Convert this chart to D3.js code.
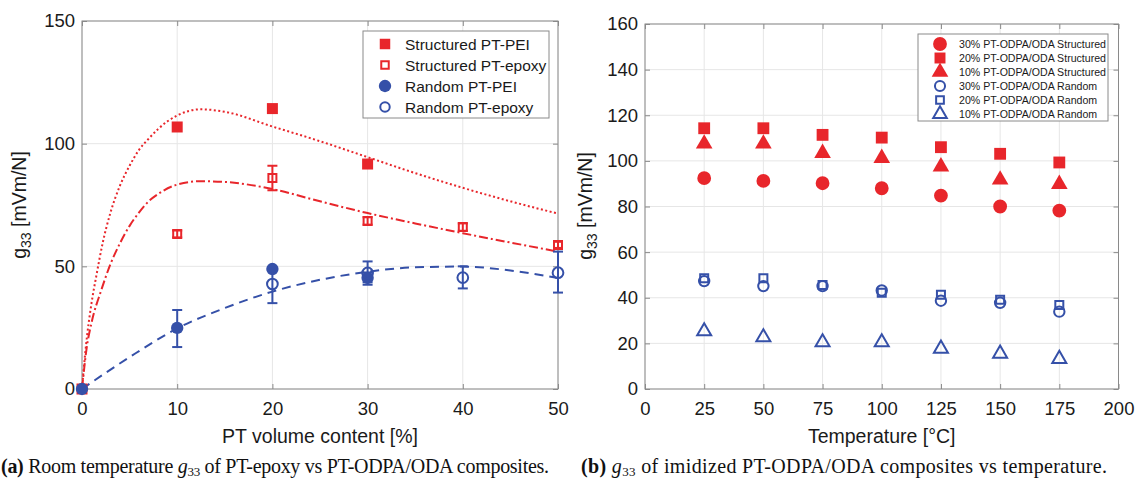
<!DOCTYPE html>
<html>
<head>
<meta charset="utf-8">
<script src="https://cdn.jsdelivr.net/npm/d3@7"></script>
<style>
  body { margin: 0; background: #fff; }
  svg { display: block; }
</style>
</head>
<body>
<svg id="chart" width="1136" height="481"></svg>
<script>
// colours used all over the figure
const RED = "#e8262b";
const BLUE = "#3550a8";
const GRID = "#e6e6e6";
const BOX = "#8a8a8a";
const SANS = "'Liberation Sans', Arial, sans-serif";
const SERIF = "'Liberation Serif', 'Times New Roman', serif";

// ---------- panel (a) data: g33 vs PT volume content ----------
const volTicks = [0, 10, 20, 30, 40, 50];
const gTicksA = [0, 50, 100, 150];

const strPeiX = [0, 10, 20, 30];
const strPeiY = [0, 106.8, 114.3, 91.7];

const strEpoX = [10, 20, 30, 40, 50];
const strEpoY = [63.2, 86, 68.5, 66, 58.7];
const strEpoLo = [61.8, 81, 67, 64.5, 57.5];
const strEpoHi = [64.6, 91, 70, 67.5, 60];

const rndPeiX = [0, 10, 20, 30];
const rndPeiY = [0, 24.9, 48.9, 45.3];
const rndPeiLo = [0, 17.1, 48.9, 43.5];
const rndPeiHi = [0, 32.2, 48.9, 47.5];

const rndEpoX = [20, 30, 40, 50];
const rndEpoY = [42.8, 47.3, 45.4, 47.4];
const rndEpoLo = [35, 42.5, 41, 39.3];
const rndEpoHi = [49, 52, 50, 56];

// fitted curves
const fitPeiX = [0, 0.4, 1, 1.5, 2.2, 3, 4, 5, 6, 7, 8, 10, 12.5, 15, 20, 25, 30, 35, 40, 45, 50];
const fitPeiY = [0, 17, 35, 46, 60, 72, 83, 91, 97.5, 102, 106, 111.5, 114, 113, 107, 101, 94.5, 88, 82, 76.5, 71.5];
const fitEpoX = [0, 0.5, 1, 2, 3, 4, 5, 6, 7, 8, 10, 12.5, 15, 20, 25, 30, 35, 40, 45, 50];
const fitEpoY = [0, 17, 27, 40, 51, 59.5, 66.5, 72, 76.5, 79.5, 83.3, 84.7, 84.4, 81.5, 76.5, 71.7, 67.5, 63.5, 59.7, 56];
const fitRndX = [0, 5, 10, 15, 20, 25, 30, 35, 40, 45, 50];
const fitRndY = [0, 13, 24.7, 33, 39.7, 44.5, 47.8, 49.6, 49.9, 48.3, 45.2];

// ---------- panel (b) data: g33 vs temperature ----------
const tempTicks = [0, 25, 50, 75, 100, 125, 150, 175, 200];
const gTicksB = [0, 20, 40, 60, 80, 100, 120, 140, 160];
const temps = [25, 50, 75, 100, 125, 150, 175];
const str30 = [92.4, 91.2, 90.2, 88, 84.8, 80, 78.2];
const str20 = [114.3, 114.3, 111.4, 110.2, 106, 103.1, 99.3];
const str10 = [107.5, 107.5, 103.4, 101.2, 97.5, 91.7, 89.8];
const rnd30 = [47.3, 45.1, 45.1, 43.2, 38.7, 37.8, 33.9];
const rnd20 = [48.6, 48.6, 45.6, 42.2, 41.3, 39.1, 36.8];
const rnd10 = [25.3, 22.7, 20.5, 20.5, 17.7, 15.5, 13.2];

const legendA = ["Structured PT-PEI", "Structured PT-epoxy", "Random PT-PEI", "Random PT-epoxy"];
const legendB = ["30% PT-ODPA/ODA Structured", "20% PT-ODPA/ODA Structured", "10% PT-ODPA/ODA Structured",
                 "30% PT-ODPA/ODA Random", "20% PT-ODPA/ODA Random", "10% PT-ODPA/ODA Random"];

const svg = d3.select("#chart");

// marker helper: shape, filled or open, colour
function marker(sel, shape, size, filled, color) {
  const types = { square: d3.symbolSquare, circle: d3.symbolCircle, triangle: d3.symbolTriangle };
  sel.attr("d", d3.symbol().type(types[shape]).size(size))
    .attr("fill", filled ? color : "none")
    .attr("stroke", color)
    .attr("stroke-width", filled ? 0 : 2);
}

// grid + box + inward ticks on all four sides
function drawAxes(g, x, y, xt, yt, w, h) {
  g.append("g").selectAll("line.gx").data(xt).join("line")
    .attr("x1", d => x(d)).attr("x2", d => x(d)).attr("y1", 0).attr("y2", h)
    .attr("stroke", GRID);
  g.append("g").selectAll("line.gy").data(yt).join("line")
    .attr("x1", 0).attr("x2", w).attr("y1", d => y(d)).attr("y2", d => y(d))
    .attr("stroke", GRID);

  const style = a => {
    a.select(".domain").remove();
    a.selectAll(".tick line").attr("stroke", BOX);
    a.selectAll("text").attr("font-family", SANS).attr("font-size", 18.5).attr("fill", "#1a1a1a");
  };
  g.append("g").attr("transform", `translate(0,${h})`)
    .call(d3.axisBottom(x).tickValues(xt).tickSize(-5).tickPadding(13).tickFormat(d3.format("d"))).call(style);
  g.append("g").call(d3.axisTop(x).tickValues(xt).tickSize(-5).tickFormat("")).call(style);
  g.append("g")
    .call(d3.axisLeft(y).tickValues(yt).tickSize(-5).tickPadding(7).tickFormat(d3.format("d"))).call(style);
  g.append("g").attr("transform", `translate(${w},0)`)
    .call(d3.axisRight(y).tickValues(yt).tickSize(-5).tickFormat("")).call(style);
  g.append("rect").attr("width", w).attr("height", h)
    .attr("fill", "none").attr("stroke", BOX).attr("stroke-width", 1);
}

function yLabel(x, yc) {
  const t = svg.append("text")
    .attr("transform", `translate(${x},${yc}) rotate(-90)`)
    .attr("text-anchor", "middle")
    .attr("font-family", SANS).attr("font-size", 19.5).attr("fill", "#1a1a1a");
  t.append("tspan").text("g");
  t.append("tspan").attr("font-size", 14).attr("dy", 5).text("33");
  t.append("tspan").attr("dy", -5).text(" [mVm/N]");
}

function xLabel(xc, y, txt) {
  svg.append("text").attr("x", xc).attr("y", y).attr("text-anchor", "middle")
    .attr("font-family", SANS).attr("font-size", 19.5).attr("fill", "#1a1a1a").text(txt);
}

function caption(x, y, width, tag, before, after) {
  const t = svg.append("text").attr("x", x).attr("y", y)
    .attr("font-family", SERIF).attr("font-size", 20).attr("fill", "#111");
  t.append("tspan").attr("font-weight", "bold").text(tag + " ");
  if (before) t.append("tspan").text(before);
  t.append("tspan").attr("font-style", "italic").text("g");
  t.append("tspan").attr("font-size", 13).attr("dy", 3).text("33");
  t.append("tspan").attr("dy", -3).text(after);
  t.attr("textLength", width).attr("lengthAdjust", "spacing");
}

function errBars(g, x, y, xs, lo, hi, color) {
  const d = xs.map((v, i) => ({ x: v, lo: lo[i], hi: hi[i] })).filter(e => e.hi > e.lo);
  const eb = g.append("g").attr("stroke", color).attr("stroke-width", 2).attr("fill", "none");
  eb.selectAll("line.v").data(d).join("line")
    .attr("x1", e => x(e.x)).attr("x2", e => x(e.x)).attr("y1", e => y(e.lo)).attr("y2", e => y(e.hi));
  eb.selectAll("line.t").data(d).join("line")
    .attr("x1", e => x(e.x) - 5).attr("x2", e => x(e.x) + 5).attr("y1", e => y(e.hi)).attr("y2", e => y(e.hi));
  eb.selectAll("line.b").data(d).join("line")
    .attr("x1", e => x(e.x) - 5).attr("x2", e => x(e.x) + 5).attr("y1", e => y(e.lo)).attr("y2", e => y(e.lo));
}

function points(g, x, y, xs, ys, shape, size, filled, color) {
  g.append("g").selectAll("path").data(xs.map((v, i) => [v, ys[i]])).join("path")
    .attr("transform", d => `translate(${x(d[0])},${y(d[1])})`)
    .call(marker, shape, size, filled, color);
}

// ================= panel (a) =================
const aL = 82, aT = 21, aW = 476, aH = 368;
const xA = d3.scaleLinear().domain([0, 50]).range([0, aW]);
const yA = d3.scaleLinear().domain([0, 150]).range([aH, 0]);
const gA = svg.append("g").attr("transform", `translate(${aL},${aT})`);
drawAxes(gA, xA, yA, volTicks, gTicksA, aW, aH);

const line = (xs, ys) => d3.line().x(d => xA(d[0])).y(d => yA(d[1])).curve(d3.curveMonotoneX)(xs.map((v, i) => [v, ys[i]]));
gA.append("path").attr("d", line(fitPeiX, fitPeiY)).attr("fill", "none").attr("stroke", RED)
  .attr("stroke-width", 2).attr("stroke-dasharray", "2,2.5");
gA.append("path").attr("d", line(fitEpoX, fitEpoY)).attr("fill", "none").attr("stroke", RED)
  .attr("stroke-width", 2).attr("stroke-dasharray", "9,3,2,3");
gA.append("path").attr("d", line(fitRndX, fitRndY)).attr("fill", "none").attr("stroke", BLUE)
  .attr("stroke-width", 2).attr("stroke-dasharray", "9,6");

errBars(gA, xA, yA, strEpoX, strEpoLo, strEpoHi, RED);
errBars(gA, xA, yA, rndPeiX, rndPeiLo, rndPeiHi, BLUE);
errBars(gA, xA, yA, rndEpoX, rndEpoLo, rndEpoHi, BLUE);

points(gA, xA, yA, strPeiX, strPeiY, "square", 121, true, RED);
points(gA, xA, yA, strEpoX, strEpoY, "square", 64, false, RED);
points(gA, xA, yA, rndPeiX, rndPeiY, "circle", 120, true, BLUE);
points(gA, xA, yA, rndEpoX, rndEpoY, "circle", 90, false, BLUE);

// legend (a)
const legA = svg.append("g").attr("transform", "translate(363,31)");
legA.append("rect").attr("width", 186).attr("height", 87).attr("fill", "#fff").attr("stroke", BOX);
const legAMarks = [["square", 110, true, RED], ["square", 56, false, RED], ["circle", 120, true, BLUE], ["circle", 70, false, BLUE]];
legendA.forEach((name, i) => {
  const yy = 13 + i * 21;
  legA.append("path").attr("transform", `translate(22,${yy})`).call(marker, ...legAMarks[i]);
  legA.append("text").attr("x", 42).attr("y", yy + 5.5).attr("font-family", SANS).attr("font-size", 15.5)
    .attr("fill", "#1a1a1a").text(name);
});

yLabel(26, 205);
xLabel(aL + aW / 2, 443, "PT volume content [%]");
caption(1, 473, 548, "(a)", "Room temperature ", " of PT-epoxy vs PT-ODPA/ODA composites.");

// ================= panel (b) =================
const bL = 645, bT = 24, bW = 473.5, bH = 365;
const xB = d3.scaleLinear().domain([0, 200]).range([0, bW]);
const yB = d3.scaleLinear().domain([0, 160]).range([bH, 0]);
const gB = svg.append("g").attr("transform", `translate(${bL},${bT})`);
drawAxes(gB, xB, yB, tempTicks, gTicksB, bW, bH);

points(gB, xB, yB, temps, str30, "circle", 150, true, RED);
points(gB, xB, yB, temps, str20, "square", 140, true, RED);
points(gB, xB, yB, temps, str10, "triangle", 120, true, RED);
points(gB, xB, yB, temps, rnd30, "circle", 85, false, BLUE);
points(gB, xB, yB, temps, rnd20, "square", 64, false, BLUE);
points(gB, xB, yB, temps, rnd10, "triangle", 85, false, BLUE);

// legend (b)
const legB = svg.append("g").attr("transform", "translate(918,34)");
legB.append("rect").attr("width", 190).attr("height", 87).attr("fill", "#fff").attr("stroke", BOX);
const legBMarks = [["circle", 150, true, RED], ["square", 120, true, RED], ["triangle", 120, true, RED],
                   ["circle", 80, false, BLUE], ["square", 60, false, BLUE], ["triangle", 80, false, BLUE]];
legendB.forEach((name, i) => {
  const yy = 10 + i * 14;
  legB.append("path").attr("transform", `translate(22,${yy})`).call(marker, ...legBMarks[i]);
  legB.append("text").attr("x", 41).attr("y", yy + 4).attr("font-family", SANS).attr("font-size", 10.6)
    .attr("fill", "#1a1a1a").text(name);
});

yLabel(592, 206);
xLabel(bL + bW / 2, 443, "Temperature [°C]");
caption(581, 473, 526, "(b)", "", " of imidized PT-ODPA/ODA composites vs temperature.");
</script>
</body>
</html>
